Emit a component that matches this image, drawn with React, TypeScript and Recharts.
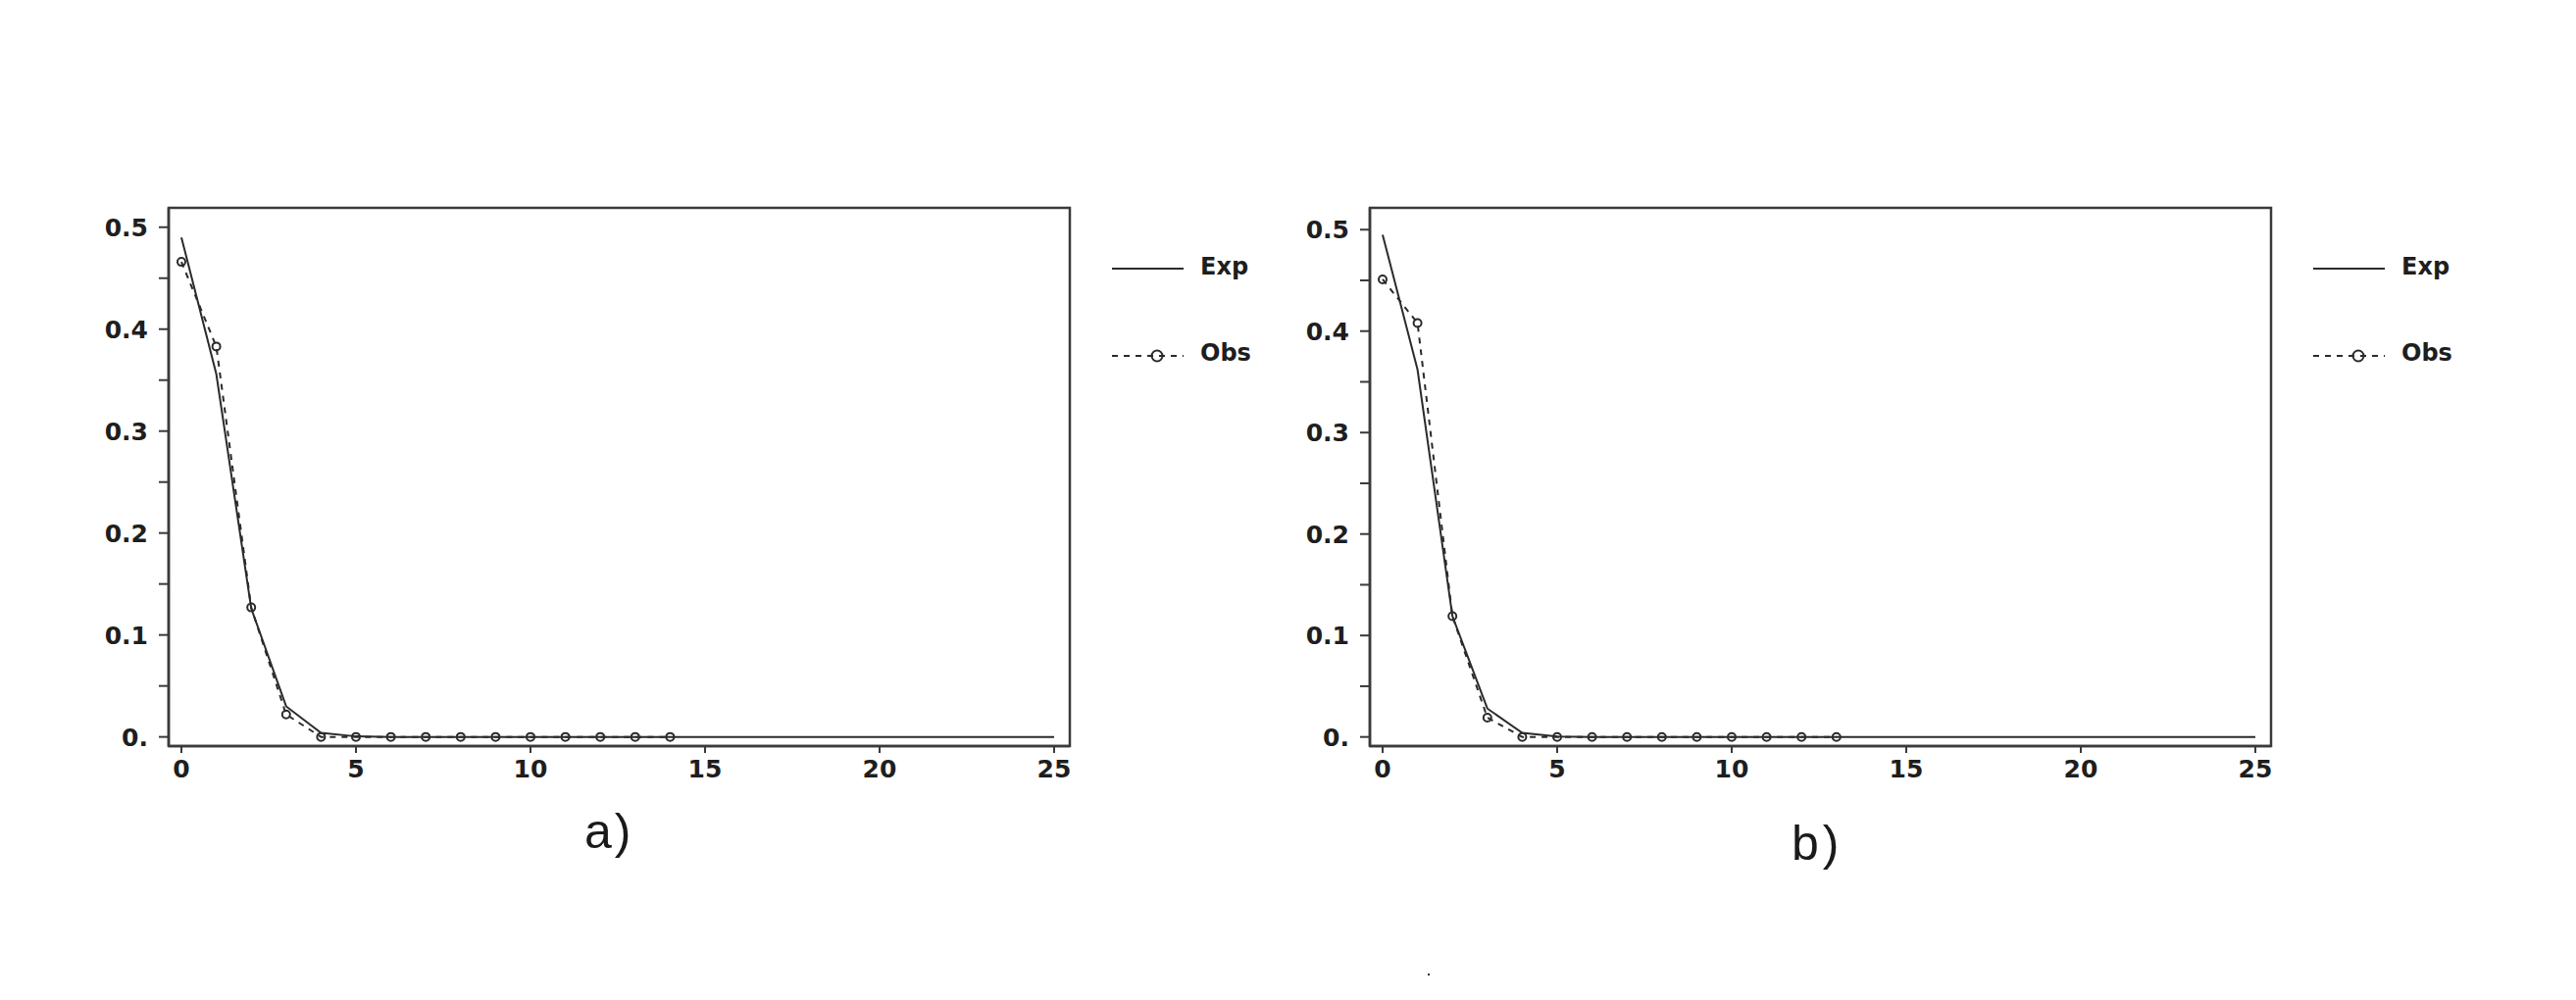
import React from "react";
import { LineChart, Line, XAxis, YAxis, ReferenceArea, Legend } from "recharts";

// ---------- data ----------
const xValues = [0, 1, 2, 3, 4, 5, 6, 7, 8, 9, 10, 11, 12, 13, 14, 15, 16, 17, 18, 19, 20, 21, 22, 23, 24, 25];

const expA = [0.49, 0.356, 0.126, 0.03, 0.004, 0.0005, 0, 0, 0, 0, 0, 0, 0, 0, 0, 0, 0, 0, 0, 0, 0, 0, 0, 0, 0, 0];
const obsA = [0.466, 0.383, 0.127, 0.022, 0, 0, 0, 0, 0, 0, 0, 0, 0, 0, 0];

const expB = [0.495, 0.362, 0.119, 0.028, 0.004, 0.0005, 0, 0, 0, 0, 0, 0, 0, 0, 0, 0, 0, 0, 0, 0, 0, 0, 0, 0, 0, 0];
const obsB = [0.451, 0.408, 0.119, 0.019, 0, 0, 0, 0, 0, 0, 0, 0, 0, 0];

const xTicks = [0, 5, 10, 15, 20, 25];
const yTicks = [0, 0.05, 0.1, 0.15, 0.2, 0.25, 0.3, 0.35, 0.4, 0.45, 0.5];
const yTickLabels = ["0.", "", "0.1", "", "0.2", "", "0.3", "", "0.4", "", "0.5"];

const seriesNames = ["Exp", "Obs"];
const captions = ["a)", "b)"];

// ---------- styles ----------
const INK = "#2b2b2b";
const AXIS = "#3a3a3a";
const tickFont = { fill: "#1e1e1e", fontSize: 25, fontFamily: "DejaVu Sans", fontWeight: "bold" as const };

function buildRows(exp: number[], obs: number[]) {
  return xValues.map((x, i) => ({
    x,
    exp: exp[i],
    obs: i < obs.length ? obs[i] : undefined,
  }));
}

const LegendContent = () => (
  <svg width={220} height={150} style={{ overflow: "visible", display: "block" }}>
    {/* Exp */}
    <line x1={0} x2={73} y1={24} y2={24} stroke={INK} strokeWidth={2} />
    <text x={90} y={22} dominantBaseline="central" fontSize={24} fontFamily="DejaVu Sans" fontWeight="bold" fill="#1e1e1e">
      {seriesNames[0]}
    </text>
    {/* Obs */}
    <line x1={0} x2={73} y1={113} y2={113} stroke={INK} strokeWidth={2} strokeDasharray="6 6" />
    <circle cx={46} cy={113} r={5.5} fill="none" stroke={INK} strokeWidth={2} />
    <text x={90} y={110} dominantBaseline="central" fontSize={24} fontFamily="DejaVu Sans" fontWeight="bold" fill="#1e1e1e">
      {seriesNames[1]}
    </text>
  </svg>
);

type PanelProps = { exp: number[]; obs: number[]; yDomain: [number, number]; left: number };

const xDomain: [number, number] = [-0.365, 25.45];

function Panel({ exp, obs, yDomain, left }: PanelProps) {
  const rows = buildRows(exp, obs);
  return (
    <div style={{ position: "absolute", left, top: 0 }}>
      <LineChart width={1300} height={900} data={rows} margin={{ top: 212, right: 209, bottom: 79, left: 72 }}>
        <XAxis
          dataKey="x"
          type="number"
          domain={xDomain}
          ticks={xTicks}
          allowDataOverflow
          tick={tickFont}
          tickSize={7}
          tickMargin={7}
          height={60}
          tickLine={{ stroke: AXIS, strokeWidth: 2 }}
          axisLine={{ stroke: AXIS, strokeWidth: 2.5 }}
        />
        <YAxis
          type="number"
          domain={yDomain}
          ticks={yTicks}
          allowDataOverflow
          interval={0}
          width={100}
          tick={tickFont}
          tickFormatter={(v: number) => {
            const i = yTicks.findIndex((t) => Math.abs(t - v) < 1e-9);
            return i >= 0 ? yTickLabels[i] : "";
          }}
          tickSize={10}
          tickMargin={11}
          tickLine={{ stroke: AXIS, strokeWidth: 2 }}
          axisLine={{ stroke: AXIS, strokeWidth: 2.5 }}
        />
        <ReferenceArea
          x1={xDomain[0]}
          x2={xDomain[1]}
          y1={yDomain[0]}
          y2={yDomain[1]}
          fill="none"
          fillOpacity={0}
          stroke={AXIS}
          strokeWidth={2.5}
          ifOverflow="visible"
        />
        <Line
          name={seriesNames[0]}
          dataKey="exp"
          type="linear"
          stroke={INK}
          strokeWidth={2}
          dot={false}
          isAnimationActive={false}
        />
        <Line
          name={seriesNames[1]}
          dataKey="obs"
          type="linear"
          stroke={INK}
          strokeWidth={2}
          strokeDasharray="6 6"
          dot={{ r: 4, stroke: INK, strokeWidth: 2, fill: "none", strokeDasharray: "none" }}
          isAnimationActive={false}
        />
        <Legend
          layout="vertical"
          align="center"
          verticalAlign="middle"
          content={<LegendContent />}
          wrapperStyle={{ left: 1134, top: 250, width: 220, height: 150 }}
        />
      </LineChart>
    </div>
  );
}

export default function App() {
  return (
    <div style={{ position: "absolute", left: 0, top: 0, width: 2627, height: 1020, background: "#fff", overflow: "hidden" }}>
      <Panel exp={expA} obs={obsA} yDomain={[-0.009, 0.519]} left={0} />
      <Panel exp={expB} obs={obsB} yDomain={[-0.009, 0.5215]} left={1225} />
      <div
        style={{
          position: "absolute",
          left: 596,
          top: 823,
          fontFamily: "Liberation Sans, Arial, sans-serif",
          fontSize: 50,
          lineHeight: "50px",
          letterSpacing: 3,
          color: "#1a1a1a",
        }}
      >
        {captions[0]}
      </div>
      <div
        style={{
          position: "absolute",
          left: 1827,
          top: 835,
          fontFamily: "Liberation Sans, Arial, sans-serif",
          fontSize: 50,
          lineHeight: "50px",
          letterSpacing: 4,
          color: "#1a1a1a",
        }}
      >
        {captions[1]}
      </div>
      <div style={{ position: "absolute", left: 1456, top: 993, width: 2, height: 2, background: "#333" }} />
    </div>
  );
}
